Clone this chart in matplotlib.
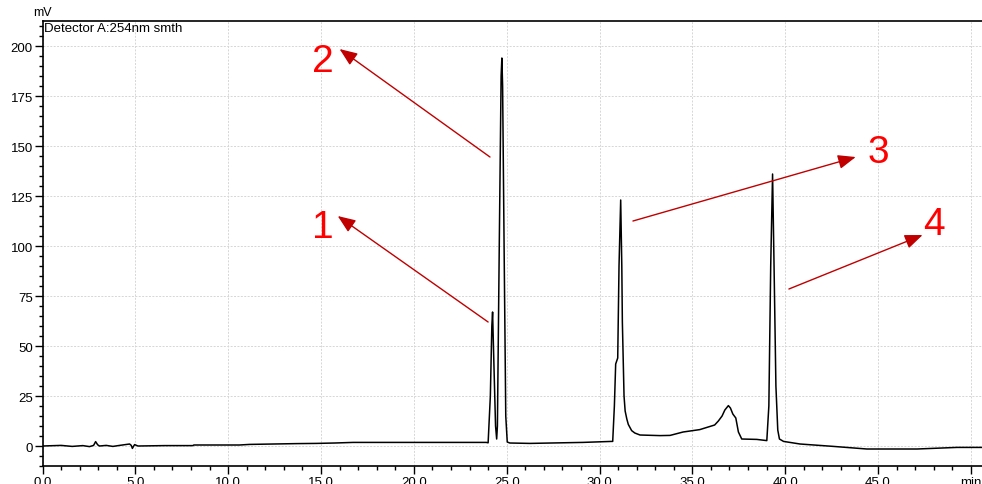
import matplotlib
matplotlib.use("Agg")
import matplotlib.pyplot as plt
from matplotlib.ticker import MultipleLocator, FixedLocator

plt.rcParams["font.family"] = ["Liberation Sans", "DejaVu Sans"]

# ---------------- chromatogram trace (retention time / detector signal) ----------------
time_min = [0.0, 1.0, 1.6, 2.17, 2.53, 2.75, 2.86, 2.97, 3.07, 3.43, 3.79, 4.15, 4.69, 4.78,
            4.84, 4.90, 4.96, 5.14, 6.58, 8.1, 8.15, 10.6, 11.16, 13.7, 14.75, 15.74, 16.73,
            23.9, 24.0, 24.12, 24.20, 24.24, 24.30, 24.40, 24.46, 24.50, 24.60, 24.70, 24.74,
            24.78, 24.86, 24.95, 25.03, 25.17, 26.25, 29.1, 30.65, 30.71, 30.80, 30.87, 30.98,
            31.05, 31.14, 31.20, 31.23, 31.32, 31.38, 31.47, 31.55, 31.73, 31.9, 32.18, 33.26,
            33.8, 34.5, 35.4, 36.2, 36.4, 36.6, 36.75, 36.94, 37.05, 37.18, 37.34, 37.48,
            37.66, 38.47, 39.01, 39.12, 39.22, 39.32, 39.40, 39.50, 39.60, 39.69, 39.91, 40.8,
            42.6, 44.4, 47.1, 49.25, 50.6]
signal_mv = [0.0, 0.3, -0.2, 0.2, -0.3, 0.3, 2.2, 0.6, 0.0, 0.3, -0.2, 0.3, 1.0, 0.3,
             -1.2, -0.2, 0.7, 0.0, 0.2, 0.2, 0.5, 0.5, 0.8, 1.2, 1.3, 1.5, 1.8,
             1.8, 1.6, 25.0, 60.0, 67.0, 45.0, 10.0, 3.5, 10.0, 100.0, 185.0, 194.0,
             180.0, 100.0, 15.0, 2.0, 1.5, 1.3, 1.8, 2.3, 2.3, 20.0, 41.0, 44.0,
             90.0, 123.0, 90.0, 62.0, 25.0, 17.5, 13.5, 10.8, 7.7, 6.5, 5.5, 5.2,
             5.3, 7.0, 8.2, 10.5, 12.5, 15.0, 18.0, 20.2, 19.0, 16.0, 14.0, 7.0,
             3.5, 3.3, 2.7, 20.0, 90.0, 136.0, 90.0, 30.0, 8.0, 3.5, 2.3, 1.0,
             -0.2, -1.5, -1.5, -0.7, -0.7]

x_ticks = [0, 5, 10, 15, 20, 25, 30, 35, 40, 45, 50]
x_tick_labels = ["0.0", "5.0", "10.0", "15.0", "20.0", "25.0", "30.0", "35.0", "40.0", "45.0", "min"]
y_ticks = [0, 25, 50, 75, 100, 125, 150, 175, 200]

# peak labels: (label, label pos, arrow tip, arrow tail)
peak_names = ["1", "2", "3", "4"]
label_xy = [(15.1, 109.5), (15.1, 192.5), (45.0, 147.0), (48.0, 111.0)]
arrow_tip = [(15.9, 115.0), (16.0, 198.5), (43.8, 144.5), (47.4, 105.5)]
arrow_tail = [(24.0, 62.0), (24.1, 144.5), (31.8, 112.5), (40.2, 78.5)]

fig = plt.figure(figsize=(9.82, 4.85), dpi=100)
ax = fig.add_axes([0.0433, 0.0371, 0.9567, 0.9175])

ax.plot(time_min, signal_mv, color="black", linewidth=1.1)

ax.set_xlim(0, 50.6)
ax.set_ylim(-10, 212.5)

ax.xaxis.set_major_locator(FixedLocator(x_ticks))
ax.set_xticklabels(x_tick_labels)
ax.xaxis.set_minor_locator(MultipleLocator(1))
ax.yaxis.set_major_locator(FixedLocator(y_ticks))
ax.yaxis.set_minor_locator(MultipleLocator(5))

ax.tick_params(axis="both", which="major", direction="out", length=6, width=1.0,
               labelsize=9.5, color="black", pad=1.0)
ax.tick_params(axis="both", which="minor", direction="out", length=3, width=1.0)
ax.tick_params(axis="x", which="both", top=False)
ax.tick_params(axis="y", which="both", right=False)

ax.grid(True, which="major", color="#d6d6d6", linestyle=(0, (2, 1.5)), linewidth=0.7)
ax.set_axisbelow(True)

for side in ["left", "bottom", "top"]:
    ax.spines[side].set_linewidth(1.2)
    ax.spines[side].set_color("black")
ax.spines["right"].set_visible(False)

ax.annotate("mV", xy=(0.0, 1.0), xycoords="axes fraction", xytext=(0, 2),
            textcoords="offset points", fontsize=9, ha="center", va="bottom")
ax.text(0.002, 0.998, "Detector A:254nm smth", transform=ax.transAxes,
        fontsize=9.5, ha="left", va="top")

# red arrows pointing to the numbered peaks
for name, lxy, tip, tail in zip(peak_names, label_xy, arrow_tip, arrow_tail):
    ax.annotate("", xy=tip, xytext=tail,
                arrowprops=dict(arrowstyle="-|>,head_length=0.9,head_width=0.36",
                                mutation_scale=12, color="#c00000", lw=1.0,
                                shrinkA=0, shrinkB=0))
    ax.text(lxy[0], lxy[1], name, color="#ff0000", fontsize=28,
            ha="center", va="center")

plt.savefig("out.png", dpi=100)
